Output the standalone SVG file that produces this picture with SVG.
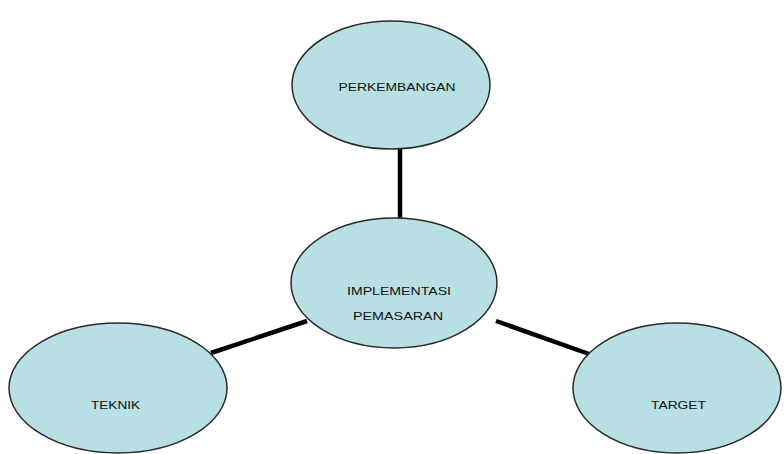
<svg xmlns="http://www.w3.org/2000/svg" width="784" height="454" viewBox="0 0 784 454">
<style>
.n{fill:#b8dfe3;stroke:#2a2a2a;stroke-width:1.5}
.t{font-family:"Liberation Sans",Arial,sans-serif;font-size:11px;fill:#111;text-anchor:middle;dominant-baseline:central}
.c{stroke:#000;stroke-width:4.5;fill:none}
</style>
<rect width="784" height="454" fill="#fff"/>
<g id="connectors">
<line class="c" x1="400" y1="148" x2="400" y2="219"/>
<line class="c" x1="211" y1="353" x2="307" y2="321"/>
<line class="c" x1="496" y1="321" x2="589" y2="354"/>
</g>
<g id="perkembangan">
<ellipse class="n" cx="391" cy="85" rx="99" ry="64"/>
<text class="t" x="397" y="87" textLength="117" lengthAdjust="spacingAndGlyphs">PERKEMBANGAN</text>
</g>
<g id="implementasi">
<ellipse class="n" cx="394" cy="283" rx="103" ry="65"/>
<text class="t" x="399" y="291" textLength="104" lengthAdjust="spacingAndGlyphs">IMPLEMENTASI</text>
<text class="t" x="398" y="316" textLength="90" lengthAdjust="spacingAndGlyphs">PEMASARAN</text>
</g>
<g id="teknik">
<ellipse class="n" cx="118" cy="388" rx="109" ry="65"/>
<text class="t" x="115.5" y="405" textLength="49" lengthAdjust="spacingAndGlyphs">TEKNIK</text>
</g>
<g id="target">
<ellipse class="n" cx="677" cy="388" rx="104" ry="65"/>
<text class="t" x="678.5" y="405" textLength="55" lengthAdjust="spacingAndGlyphs">TARGET</text>
</g>
</svg>
